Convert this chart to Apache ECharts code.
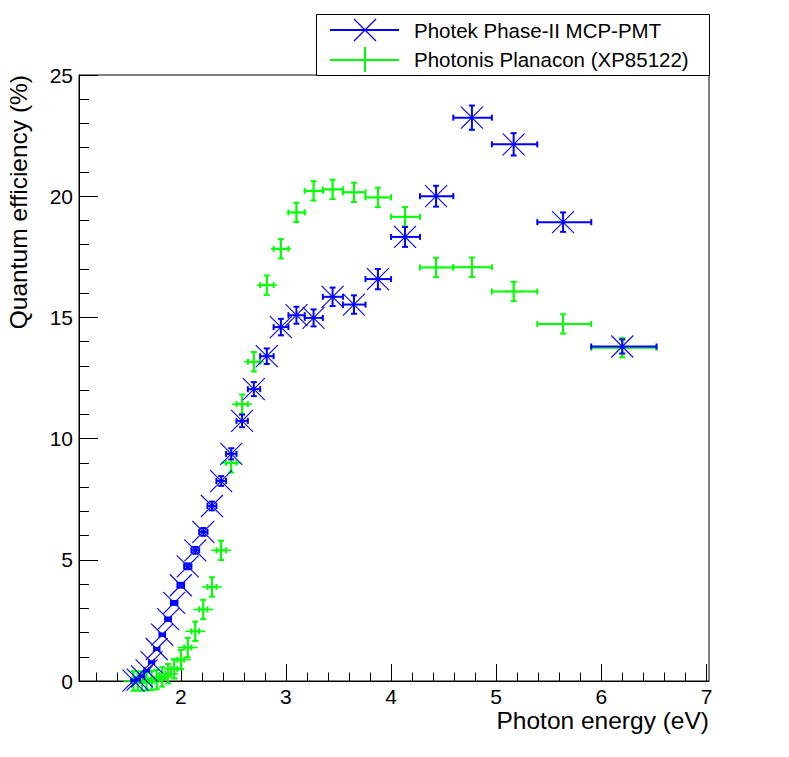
<!DOCTYPE html>
<html><head><meta charset="utf-8">
<script src="https://cdn.jsdelivr.net/npm/echarts@6/dist/echarts.min.js"></script>
<style>html,body{margin:0;padding:0;background:#fff}#c{width:789px;height:757px}</style>
</head><body><div id="c"></div>
<script>
// Photon energy bin centres and bin edges (eV)
const energy = [6.199, 5.636, 5.166, 4.769, 4.428, 4.133, 3.875, 3.647, 3.444, 3.263, 3.100, 2.952, 2.818, 2.695, 2.583, 2.480, 2.384, 2.296, 2.214, 2.138, 2.066, 2.000, 1.937, 1.879, 1.823, 1.771, 1.722, 1.675, 1.631, 1.590, 1.550];
const energyLow = [5.904, 5.391, 4.959, 4.592, 4.275, 4.000, 3.757, 3.542, 3.351, 3.179, 3.024, 2.883, 2.755, 2.638, 2.530, 2.431, 2.339, 2.254, 2.175, 2.101, 2.032, 1.968, 1.907, 1.851, 1.797, 1.746, 1.699, 1.653, 1.610, 1.569, 1.531];
const energyHigh = [6.525, 5.904, 5.391, 4.959, 4.592, 4.275, 4.000, 3.757, 3.542, 3.351, 3.179, 3.024, 2.883, 2.755, 2.638, 2.530, 2.431, 2.339, 2.254, 2.175, 2.101, 2.032, 1.968, 1.907, 1.851, 1.797, 1.746, 1.699, 1.653, 1.610, 1.569];

// Photek Phase-II MCP-PMT quantum efficiency (%) and its error
const photekQE = [13.80, 18.93, 22.14, 23.24, 20.00, 18.32, 16.58, 15.53, 15.85, 14.98, 15.09, 14.60, 13.40, 12.04, 10.73, 9.37, 8.25, 7.22, 6.15, 5.39, 4.73, 3.95, 3.22, 2.55, 1.91, 1.32, 0.78, 0.44, 0.19, 0.06, 0.02];
const photekErr = [0.29, 0.40, 0.46, 0.50, 0.43, 0.41, 0.42, 0.38, 0.38, 0.35, 0.35, 0.34, 0.32, 0.29, 0.26, 0.23, 0.20, 0.18, 0.16, 0.14, 0.12, 0.10, 0.08, 0.07, 0.05, 0.04, 0.03, 0.02, 0.01, 0.01, 0.01];

// Photonis Planacon (XP85122) quantum efficiency (%) and its error
const planaconQE = [13.75, 14.73, 16.07, 17.07, 17.06, 19.15, 19.95, 20.16, 20.28, 20.22, 19.33, 17.83, 16.33, 13.17, 11.42, 9.00, 5.39, 3.88, 2.95, 2.05, 1.38, 0.88, 0.50, 0.30, 0.17, 0.06, 0.02, 0.01, 0.00, 0.00, 0.00];
const planaconErr = [0.40, 0.40, 0.40, 0.40, 0.40, 0.40, 0.40, 0.40, 0.40, 0.40, 0.40, 0.40, 0.40, 0.40, 0.40, 0.40, 0.40, 0.40, 0.40, 0.40, 0.40, 0.40, 0.40, 0.40, 0.40, 0.40, 0.40, 0.40, 0.40, 0.40, 0.40];

const xMajorTicks = [2, 3, 4, 5, 6, 7];
const xMinorTicks = [1.2, 1.4, 1.6, 1.8, 2.2, 2.4, 2.6, 2.8, 3.2, 3.4, 3.6, 3.8, 4.2, 4.4, 4.6, 4.8, 5.2, 5.4, 5.6, 5.8, 6.2, 6.4, 6.6, 6.8];
const seriesNames = ['Photek Phase-II MCP-PMT', 'Photonis Planacon (XP85122)'];
const xTitle = 'Photon energy (eV)';
const yTitle = 'Quantum efficiency (%)';

const FONT = '"Liberation Sans", Arial, Helvetica, sans-serif';
const BLUE = '#0000ff', GREEN = '#00ff00';

function seg(x1, y1, x2, y2, stroke, lw) {
  return {type: 'line', shape: {x1, y1, x2, y2}, style: {stroke, lineWidth: lw}};
}

function makeRender(color, marker) {
  return function (params, api) {
    const x = api.value(0), y = api.value(1), xl = api.value(2), xh = api.value(3), e = api.value(4);
    const c = api.coord([x, y]);
    const pL = api.coord([xl, y]), pH = api.coord([xh, y]);
    const pT = api.coord([x, y + e]), pB = api.coord([x, y - e]);
    const cap = 3;
    const ch = [];
    if (marker === 'x') {
      const m = 11;
      ch.push(seg(c[0] - m, c[1] - m, c[0] + m, c[1] + m, color, 1.1));
      ch.push(seg(c[0] - m, c[1] + m, c[0] + m, c[1] - m, color, 1.1));
    } else {
      const m = 10;
      ch.push(seg(c[0] - m, c[1], c[0] + m, c[1], color, 1.5));
      ch.push(seg(c[0], c[1] - m, c[0], c[1] + m, color, 1.5));
    }
    ch.push(seg(pL[0], c[1], pH[0], c[1], color, 2));
    ch.push(seg(c[0], pT[1], c[0], pB[1], color, 2));
    ch.push(seg(pL[0], c[1] - cap, pL[0], c[1] + cap, color, 2));
    ch.push(seg(pH[0], c[1] - cap, pH[0], c[1] + cap, color, 2));
    ch.push(seg(c[0] - cap, pT[1], c[0] + cap, pT[1], color, 2));
    ch.push(seg(c[0] - cap, pB[1], c[0] + cap, pB[1], color, 2));
    return {type: 'group', children: ch};
  };
}

const photekData = energy.map((x, i) => [x, photekQE[i], energyLow[i], energyHigh[i], photekErr[i]]);
const planaconData = energy.map((x, i) => [x, planaconQE[i], energyLow[i], energyHigh[i], planaconErr[i]]);

const chart = echarts.init(document.getElementById('c'), null, {renderer: 'svg'});
const XMIN = 1.032, XMAX = 7.024;
chart.setOption({
  animation: false,
  backgroundColor: '#fff',
  grid: {left: 79, right: 80, top: 75, bottom: 76, show: true, borderColor: '#000', borderWidth: 1, backgroundColor: 'transparent'},
  xAxis: [{
    type: 'value', min: XMIN, max: XMAX, position: 'bottom',
    axisLine: {show: true, lineStyle: {color: '#000', width: 1}},
    axisTick: {show: true, inside: true, length: 17, customValues: xMajorTicks, lineStyle: {color: '#000', width: 1}},
    axisLabel: {show: true, customValues: xMajorTicks, margin: 5, fontSize: 21, lineHeight: 20, color: '#000', fontFamily: FONT},
    splitLine: {show: false}
  }, {
    type: 'value', min: XMIN, max: XMAX, position: 'bottom', offset: 0,
    axisLine: {show: false},
    axisTick: {show: true, inside: true, length: 8.5, customValues: xMinorTicks, lineStyle: {color: '#000', width: 1}},
    axisLabel: {show: false},
    splitLine: {show: false}
  }],
  yAxis: {
    type: 'value', min: 0, max: 25, interval: 5,
    axisLine: {show: true, lineStyle: {color: '#000', width: 1}},
    axisTick: {show: true, inside: true, length: 19, lineStyle: {color: '#000', width: 1}},
    minorTick: {show: true, splitNumber: 5, length: 10, lineStyle: {color: '#000', width: 1}},
    axisLabel: {margin: 6, fontSize: 21, color: '#000', fontFamily: FONT},
    splitLine: {show: false}
  },
  series: [{
    name: seriesNames[1], type: 'custom', clip: false, z: 3,
    renderItem: makeRender(GREEN, '+'),
    encode: {x: 0, y: 1}, data: planaconData
  }, {
    name: seriesNames[0], type: 'custom', clip: false, z: 4,
    renderItem: makeRender(BLUE, 'x'),
    encode: {x: 0, y: 1}, data: photekData
  }],
  graphic: [
    {type: 'text', z: 100, x: 709, y: 720, style: {text: xTitle, align: 'right', verticalAlign: 'middle', fontSize: 24.5, lineHeight: 24, fontFamily: FONT, fill: '#000'}},
    {type: 'text', z: 100, x: 18.5, y: 75, rotation: Math.PI / 2, style: {text: yTitle, align: 'right', verticalAlign: 'middle', fontSize: 24.5, fontFamily: FONT, fill: '#000'}},
    {type: 'group', z: 100, children: [
      {type: 'rect', shape: {x: 316.5, y: 14.5, width: 393, height: 61}, style: {fill: '#fff', stroke: '#000', lineWidth: 1}},
      {type: 'line', shape: {x1: 330, y1: 30, x2: 399, y2: 30}, style: {stroke: BLUE, lineWidth: 2}},
      {type: 'line', shape: {x1: 354, y1: 19, x2: 376, y2: 41}, style: {stroke: BLUE, lineWidth: 1.2}},
      {type: 'line', shape: {x1: 354, y1: 41, x2: 376, y2: 19}, style: {stroke: BLUE, lineWidth: 1.2}},
      {type: 'line', shape: {x1: 330, y1: 60, x2: 399, y2: 60}, style: {stroke: GREEN, lineWidth: 2}},
      {type: 'line', shape: {x1: 365, y1: 47, x2: 365, y2: 72}, style: {stroke: GREEN, lineWidth: 2}},
      {type: 'text', x: 414, y: 30, style: {text: seriesNames[0], align: 'left', verticalAlign: 'middle', fontSize: 20.5, fontFamily: FONT, fill: '#000'}},
      {type: 'text', x: 414, y: 59.5, style: {text: seriesNames[1], align: 'left', verticalAlign: 'middle', fontSize: 20.5, fontFamily: FONT, fill: '#000'}}
    ]}
  ]
});
</script>
</body></html>
